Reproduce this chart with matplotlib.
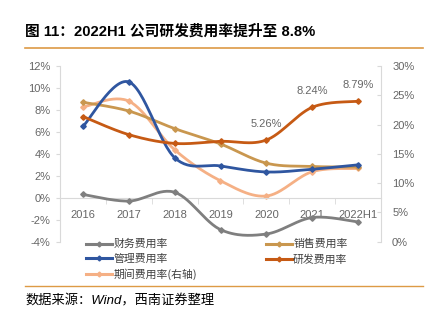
import numpy as np
import matplotlib
matplotlib.use("Agg")
import matplotlib.pyplot as plt
from matplotlib.lines import Line2D

plt.rcParams['font.family'] = ['Liberation Sans', 'Noto Sans CJK SC', 'DejaVu Sans']

years = ['2016', '2017', '2018', '2019', '2020', '2021', '2022H1']
fin_rate = [0.3, -0.3, 0.5, -2.9, -3.3, -1.8, -2.2]        # 财务费用率
sales_rate = [8.7, 7.9, 6.3, 4.9, 3.15, 2.85, 2.8]        # 销售费用率
admin_rate = [6.5, 10.55, 3.65, 2.9, 2.35, 2.6, 3.0]      # 管理费用率
rd_rate = [7.4, 5.75, 4.95, 5.14, 5.26, 8.24, 8.79]       # 研发费用率
period_rate = [23.0, 24.0, 15.7, 10.4, 7.8, 11.95, 12.5]  # 期间费用率 (右轴)
rd_labels = {4: '5.26%', 5: '8.24%', 6: '8.79%'}

left_ticks = [-4, -2, 0, 2, 4, 6, 8, 10, 12]
right_ticks = [0, 5, 10, 15, 20, 25, 30]

C_GRAY = '#7f7f7f'
C_GOLD = '#c9974f'
C_BLUE = '#2f56a0'
C_ORANGE = '#c65a14'
C_PEACH = '#f5b085'
C_TEXT = '#666666'
C_RULE = '#dd9a45'
C_AXIS = '#d9d9d9'


def smooth(y, n=30):
    # Bezier smoothing like office "smooth line" charts
    y = np.asarray(y, dtype=float)
    x = np.arange(len(y), dtype=float)
    pts = np.column_stack([x, y])
    ext = np.vstack([pts[0], pts, pts[-1]])
    t = np.linspace(0, 1, n)[:, None]
    out = []
    for i in range(len(pts) - 1):
        p0, p3 = ext[i + 1], ext[i + 2]
        p1 = p0 + (ext[i + 2] - ext[i]) / 6
        p2 = p3 - (ext[i + 3] - ext[i + 1]) / 6
        seg = ((1 - t) ** 3) * p0 + 3 * ((1 - t) ** 2) * t * p1 + 3 * (1 - t) * t ** 2 * p2 + t ** 3 * p3
        out.append(seg if i == 0 else seg[1:])
    out = np.vstack(out)
    return out[:, 0], out[:, 1]


W, H = 438, 325
fig = plt.figure(figsize=(W / 100, H / 100), dpi=100)

ax = fig.add_axes([60 / W, 1 - 241.7 / H, (381 - 60) / W, (241.7 - 66) / H])
ax2 = ax.twinx()

x = np.arange(len(years))


def draw(axis, vals, color):
    sx, sy = smooth(vals)
    axis.plot(sx, sy, color=color, lw=2.0, solid_capstyle='round', zorder=3)
    axis.plot(x, vals, ls='none', marker='D', ms=2.8, color=color, zorder=4)


draw(ax, fin_rate, C_GRAY)
draw(ax, sales_rate, C_GOLD)
draw(ax, admin_rate, C_BLUE)
draw(ax, rd_rate, C_ORANGE)
draw(ax2, period_rate, C_PEACH)
ax.set_zorder(ax2.get_zorder() + 1)
ax.patch.set_visible(False)

for i, txt in rd_labels.items():
    ax.annotate(txt, (x[i], rd_rate[i]), xytext=(0, 8), textcoords='offset points',
                ha='center', va='bottom', fontsize=8, color=C_TEXT)

ax.set_xlim(-0.5, len(years) - 0.5)
ax.set_ylim(-4, 12)
ax2.set_ylim(0, 30)
ax.set_yticks(left_ticks)
ax.set_yticklabels([f'{v}%' for v in left_ticks])
ax2.set_yticks(right_ticks)
ax2.set_yticklabels([f'{v}%' for v in right_ticks])

ax.set_xticks(x)
ax.set_xticklabels(years)
ax.set_xticks(np.arange(-0.5, len(years)), minor=True)
ax.tick_params(axis='x', which='major', length=0, pad=9, labelsize=8, labelcolor=C_TEXT)
ax.tick_params(axis='x', which='minor', length=4, direction='out', color=C_AXIS)
ax.tick_params(axis='y', length=3, color=C_AXIS, labelsize=8, labelcolor=C_TEXT, pad=4)
ax2.tick_params(axis='y', length=3, direction='in', color=C_AXIS, labelsize=8, labelcolor=C_TEXT, pad=8)

for a in (ax, ax2):
    a.spines['top'].set_visible(False)
    for s in a.spines.values():
        s.set_color(C_AXIS)
        s.set_linewidth(0.8)
ax.spines['right'].set_visible(False)
ax2.spines['left'].set_visible(False)
ax2.spines['bottom'].set_visible(False)
ax.spines['bottom'].set_position(('data', 0))

# legend
def handle(color, label):
    return Line2D([], [], color=color, lw=2.2, marker='D', ms=2.5, label=label)

handles = [handle(C_GRAY, '财务费用率'), handle(C_BLUE, '管理费用率'),
           handle(C_PEACH, '期间费用率(右轴)'), handle(C_GOLD, '销售费用率'),
           handle(C_ORANGE, '研发费用率')]
fig.legend(handles=handles, ncol=2, loc='upper left', bbox_to_anchor=(86 / W, 1 - 239 / H),
           frameon=False, handlelength=2.4, handletextpad=0.15,
           columnspacing=6.3, labelspacing=0.42, borderaxespad=0, borderpad=0,
           labelcolor='#404040', prop={'family': ['Noto Sans CJK SC'], 'size': 7.8})

# title and source
fig.text(25 / W, 1 - 31 / H, '图 11：2022H1 公司研发费用率提升至 8.8%', fontsize=10.6,
         fontweight='bold', ha='left', va='center', color='black')
fig.add_artist(Line2D([25 / W, 423 / W], [1 - 47.5 / H] * 2, color=C_RULE, lw=1.2))
fig.add_artist(Line2D([25 / W, 423 / W], [1 - 285.7 / H] * 2, color=C_RULE, lw=1.0))
fig.text(25 / W, 1 - 301.5 / H, '数据来源：Wind，西南证券整理', fontsize=9.5, style='italic',
         ha='left', va='center', color='black')

fig.savefig('out.png', dpi=100)
